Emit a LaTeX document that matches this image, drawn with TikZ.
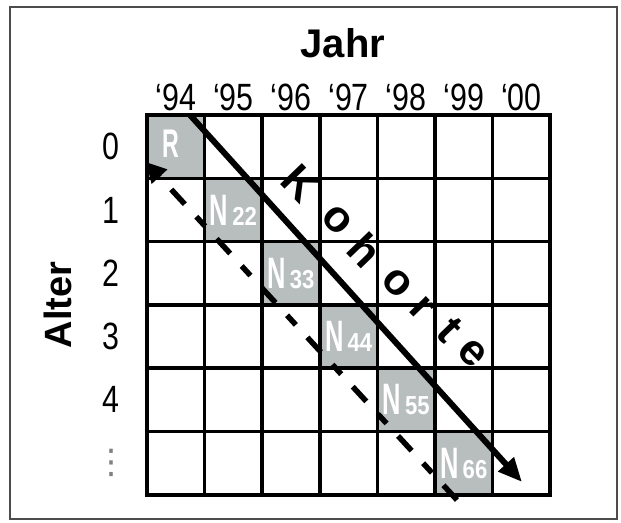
\documentclass[tikz,border=0pt]{standalone}
\usepackage{fontspec}
\setmainfont{Liberation Sans}
\newfontfamily\narrowsf[FakeStretch=0.8]{Liberation Sans}
\newfontfamily\slimsf[FakeStretch=0.58]{Liberation Sans}
\newfontfamily\digitsf[FakeStretch=0.85]{Liberation Sans}
\newfontfamily\dotsf{DejaVu Sans}
\usetikzlibrary{arrows.meta}
\definecolor{cellgray}{RGB}{184,190,190}
\newcommand{\nlab}[1]{{\fontsize{44}{44}\selectfont\slimsf\bfseries N}\kern4pt{\fontsize{26}{26}\selectfont\digitsf\bfseries #1}}
\tikzset{
  gridline/.style={line width=3.5pt,line cap=rect},
  cohortcell/.style={fill=cellgray,text=white,minimum width=57.6pt,minimum height=63.3pt,inner sep=0pt},
  yearlab/.style={font=\narrowsf\fontsize{38}{38}\selectfont,inner sep=0pt},
  kohortepfeil/.style={line width=6pt,-{Triangle[length=24pt,width=20pt]}},
  zeitpfeil/.style={line width=5.5pt,dash pattern=on 20pt off 17pt on 13pt off 17pt,-{Triangle[length=20pt,width=20pt]}}
}
\begin{document}
\begin{tikzpicture}[x=1pt,y=-1pt]
  \useasboundingbox (0,0) rectangle (621,522);
  \draw[gray!60!black,line width=1.5pt] (10,7) rectangle (617,519);
  % gray cells on the diagonal
  \node[cohortcell] (r) at (175.8,146.65) {\raisebox{5pt}{\kern-10pt\fontsize{40}{40}\selectfont\slimsf\bfseries R}};
  \foreach \i/\l in {1/22,2/33,3/44,4/55,5/66}
    \node[cohortcell] (n\l) at (175.8+57.6*\i,146.65+63.3*\i) {\nlab{\l}};
  % grid
  \foreach \i in {0,...,7}
    \draw[gridline] (147+57.6*\i,115) -- (147+57.6*\i,494.8);
  \foreach \j in {0,...,6}
    \draw[gridline] (147,115+63.3*\j) -- (550.2,115+63.3*\j);
  % labels
  \node[font=\bfseries\fontsize{40}{40}\selectfont] (jahr) at (343,43) {Jahr};
  \foreach \i/\y in {0/94,1/95,2/96,3/97,4/98,5/99,6/00}
    \node[yearlab] (y\y) at (175.8+57.6*\i,97) {‘\y};
  \foreach \j in {0,...,4}
    \node[yearlab] (a\j) at (111,146.65+63.3*\j) {\j};
  \node[text=gray,font=\dotsf\fontsize{34}{34}\selectfont,inner sep=0pt] (adots) at (111,463) {⋮};
  \node[font=\bfseries\fontsize{38}{38}\selectfont,rotate=90] (alter) at (58,305) {Alter};
  % arrows
  \coordinate (kanfang) at (190,115);
  \coordinate (kende) at (522,482);
  \draw[kohortepfeil] (kanfang) -- (kende);
  \coordinate (zanfang) at (457,500);
  \coordinate (zende) at (146,162);
  \draw[zeitpfeil] (zanfang) -- (zende);
  \foreach \l/\x/\y [count=\n] in {K/300/183,o/337/220,h/365/250,o/397/283,r/422/308,t/450/330,e/472/353}
    \node[font=\bfseries\fontsize{44}{44}\selectfont,rotate=-46,inner sep=0pt] (kb\n) at (\x,\y) {\l};
\end{tikzpicture}
\end{document}
